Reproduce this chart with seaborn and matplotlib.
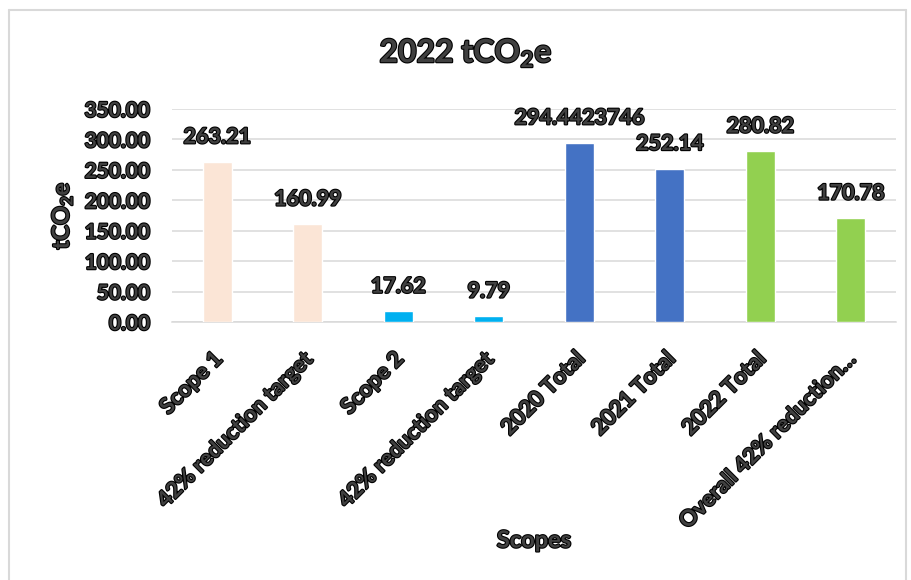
import matplotlib
matplotlib.use("Agg")
import matplotlib.pyplot as plt
import matplotlib.patheffects as pe
from matplotlib.transforms import ScaledTranslation
from matplotlib.lines import Line2D
import seaborn as sns
import pandas as pd

# Emissions by scope, tCO2e
categories = ["Scope 1", "42% reduction target", "Scope 2", "42% reduction target ",
              "2020 Total", "2021 Total", "2022 Total", "Overall 42% reduction target"]
tick_labels = ["Scope 1", "42% reduction target", "Scope 2", "42% reduction target",
               "2020 Total", "2021 Total", "2022 Total", "Overall 42% reduction\u2026"]
values = [263.21, 160.99, 17.62, 9.79, 294.4423746, 252.14, 280.82, 170.78]
bar_colors = ["#FBE5D6", "#FBE5D6", "#00B0F0", "#00B0F0",
              "#4472C4", "#4472C4", "#92D050", "#92D050"]
y_ticks = [0, 50, 100, 150, 200, 250, 300, 350]

sns.set_theme(style="white")
plt.rcParams["font.family"] = ["Lato", "DejaVu Sans"]
plt.rcParams["font.weight"] = "bold"
plt.rcParams["mathtext.default"] = "regular"

TEXT = "#404040"
GRID = "#D9D9D9"
outline = [pe.withStroke(linewidth=1.6, foreground="black")]

df = pd.DataFrame({"category": categories, "value": values})

fig = plt.figure(figsize=(9.12, 5.80), dpi=100)
ax = fig.add_axes([172 / 912, 1 - 322 / 580, 724 / 912, 213 / 580])

sns.barplot(data=df, x="category", y="value", hue="category",
            palette=bar_colors, legend=False, width=0.32, ax=ax,
            saturation=1, zorder=3)

ax.set_ylim(0, 350)
ax.set_yticks(y_ticks)
ax.set_yticklabels([f"{t:.2f}" for t in y_ticks])
ax.grid(axis="y", color=GRID, linewidth=1.1, zorder=0)
ax.set_axisbelow(True)
for side in ("top", "right", "left"):
    ax.spines[side].set_visible(False)
ax.spines["bottom"].set_color(GRID)
ax.spines["bottom"].set_linewidth(1.1)

ax.tick_params(axis="y", length=0, pad=16, labelsize=15, labelcolor=TEXT)
ax.tick_params(axis="x", length=0, pad=24, labelsize=16, labelcolor=TEXT)
ax.set_xticks(range(len(categories)))
ax.set_xticklabels(tick_labels)
shift = ScaledTranslation(1.5 / 72, 0, fig.dpi_scale_trans)
for lab in ax.get_xticklabels():
    lab.set_rotation(45)
    lab.set_ha("right")
    lab.set_va("center")
    lab.set_rotation_mode("anchor")
    lab.set_transform(lab.get_transform() + shift)
    lab.set_path_effects(outline)
for lab in ax.get_yticklabels():
    lab.set_path_effects(outline)

# value labels above each bar
for i, v in enumerate(values):
    ax.annotate(str(v), xy=(i, v), xytext=(0, 18), textcoords="offset points",
                ha="center", va="center", fontsize=15.5, fontweight="bold",
                color=TEXT, path_effects=outline, zorder=5)

ax.set_xlabel("Scopes", fontsize=17, fontweight="bold", color=TEXT,
              path_effects=outline)
ax.xaxis.set_label_coords(0.5, -(540 - 322) / 213)
ax.xaxis.label.set_va("center")
ax.set_ylabel("tCO$_2$e", fontsize=17, fontweight="bold", color=TEXT,
              path_effects=outline)
ax.yaxis.set_label_coords(-(172 - 62) / 724, 0.5)
ax.yaxis.label.set_va("center")

fig.text(466 / 912, 1 - 53 / 580, "2022 tCO$_2$e", ha="center", va="center",
         fontsize=23, fontweight="bold", color=TEXT, path_effects=outline)

# chart-area frame
W, H = 912, 580
frame = dict(color=GRID, linewidth=1.5, transform=fig.transFigure)
fig.add_artist(Line2D([9 / W, 9 / W], [0, 1 - 10 / H], **frame))
fig.add_artist(Line2D([9 / W, 906 / W], [1 - 10 / H, 1 - 10 / H], **frame))
fig.add_artist(Line2D([906 / W, 906 / W], [0, 1 - 10 / H], **frame))

fig.savefig("out.png", dpi=100, facecolor="white")
